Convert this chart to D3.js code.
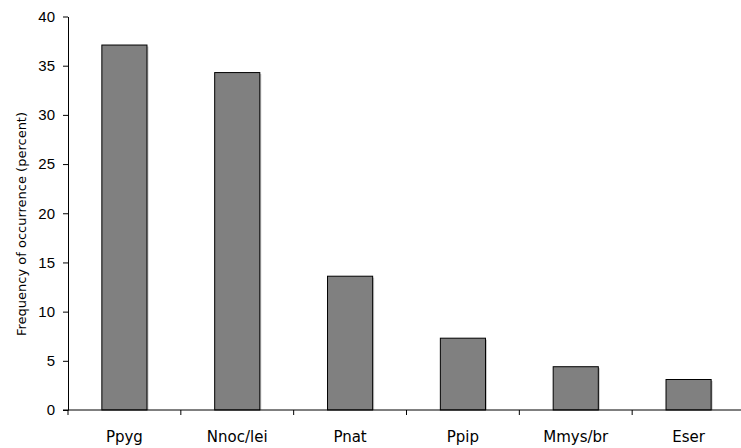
<!DOCTYPE html>
<html>
<head>
<meta charset="utf-8">
<script src="https://cdn.jsdelivr.net/npm/d3@7"></script>
<style>
  html, body { margin: 0; padding: 0; background: #fff; }
  svg { display: block; font-family: "DejaVu Sans", Verdana, sans-serif; }
</style>
</head>
<body>
<svg id="chart" width="741" height="448"></svg>
<script>
// Bat species codes and their frequency of occurrence (%)
const species = ["Ppyg", "Nnoc/lei", "Pnat", "Ppip", "Mmys/br", "Eser"];
const frequency = [37.1, 34.3, 13.6, 7.3, 4.4, 3.1];
const yTicks = [0, 5, 10, 15, 20, 25, 30, 35, 40];

const svg = d3.select("#chart");
const plotLeft = 68, plotRight = 745, plotTop = 16.5, plotBottom = 410;

const x = d3.scaleBand().domain(species).range([plotLeft, plotRight]).paddingInner(0.6).paddingOuter(0.3);
const y = d3.scaleLinear().domain([0, 40]).range([plotBottom, plotTop]);

// bars with a faint drop shadow on the right edge
const bars = svg.append("g");
bars.selectAll("rect.shadow")
  .data(species)
  .join("rect")
  .attr("class", "shadow")
  .attr("x", d => x(d) + 1.5)
  .attr("y", (d, i) => y(frequency[i]) + 1.5)
  .attr("width", x.bandwidth())
  .attr("height", (d, i) => plotBottom - y(frequency[i]) - 1.5)
  .attr("fill", "#c8c8c8");
bars.selectAll("rect.bar")
  .data(species)
  .join("rect")
  .attr("class", "bar")
  .attr("x", d => x(d))
  .attr("y", (d, i) => y(frequency[i]))
  .attr("width", x.bandwidth())
  .attr("height", (d, i) => plotBottom - y(frequency[i]))
  .attr("fill", "#808080")
  .attr("stroke", "#000")
  .attr("stroke-width", 1);

// y axis
const yAxis = svg.append("g")
  .attr("transform", `translate(${plotLeft},0)`)
  .call(d3.axisLeft(y).tickValues(yTicks).tickSize(5).tickPadding(8).tickSizeOuter(0));
yAxis.select(".domain").attr("stroke", "#000");
yAxis.selectAll("text").attr("font-size", 15).attr("fill", "#000");

// x axis: ticks at the boundaries between categories
const step = x.step();
const boundaries = species.map((d, i) => plotLeft + step * i).slice(1);
const xAxisG = svg.append("g").attr("transform", `translate(0,${plotBottom})`);
xAxisG.append("line")
  .attr("x1", plotLeft - 5).attr("x2", 741)
  .attr("stroke", "#000");
xAxisG.selectAll("line.tick")
  .data([plotLeft].concat(boundaries))
  .join("line")
  .attr("class", "tick")
  .attr("x1", d => d).attr("x2", d => d)
  .attr("y1", 0).attr("y2", 5)
  .attr("stroke", "#000");
xAxisG.selectAll("text")
  .data(species)
  .join("text")
  .attr("x", d => x(d) + x.bandwidth() / 2)
  .attr("y", 32)
  .attr("text-anchor", "middle")
  .attr("font-size", 15)
  .attr("fill", "#000")
  .text(d => d);

// y axis title
svg.append("text")
  .attr("transform", "translate(25.5,224) rotate(-90)")
  .attr("text-anchor", "middle")
  .attr("font-size", 13)
  .attr("fill", "#000")
  .text("Frequency of occurrence (percent)");
</script>
</body>
</html>
